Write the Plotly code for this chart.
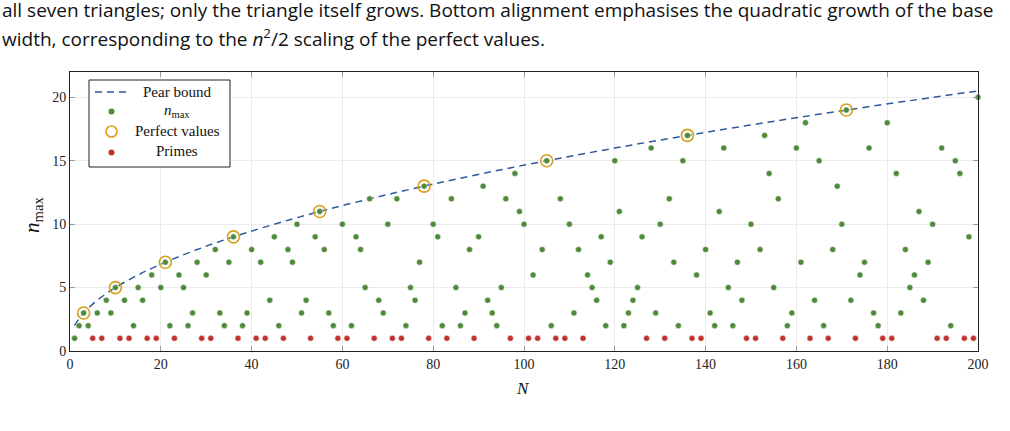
import plotly.graph_objects as go

# ---------------- data ----------------
N = list(range(1, 201))
n_max = [
    1, 2, 3, 2, 1, 3, 1, 4, 3, 5,
    1, 4, 1, 2, 5, 4, 1, 6, 1, 5,
    7, 2, 1, 6, 5, 2, 3, 7, 1, 6,
    1, 8, 3, 2, 7, 9, 1, 2, 3, 8,
    1, 7, 1, 4, 9, 2, 1, 8, 7, 10,
    3, 4, 1, 9, 11, 8, 3, 2, 1, 10,
    1, 2, 9, 8, 5, 12, 1, 4, 3, 10,
    1, 12, 1, 2, 5, 4, 7, 13, 1, 10,
    9, 2, 1, 12, 5, 2, 3, 8, 1, 9,
    13, 4, 3, 2, 5, 12, 1, 14, 11, 10,
    1, 6, 1, 8, 15, 2, 1, 12, 1, 10,
    3, 8, 1, 6, 5, 4, 9, 2, 7, 15,
    11, 2, 3, 4, 5, 9, 1, 16, 3, 10,
    1, 12, 7, 2, 15, 17, 1, 6, 1, 8,
    3, 2, 11, 16, 5, 2, 7, 4, 1, 10,
    1, 8, 17, 14, 5, 12, 1, 2, 3, 16,
    7, 18, 1, 4, 15, 2, 1, 8, 13, 10,
    19, 4, 1, 6, 7, 16, 3, 2, 1, 18,
    1, 14, 3, 8, 5, 6, 11, 4, 7, 10,
    1, 16, 1, 2, 15, 14, 1, 9, 1, 20,
]
primes = [5, 7, 11, 13, 17, 19, 23, 29, 31, 37, 41, 43, 47, 53, 59, 61, 67, 71,
          73, 79, 83, 89, 97, 101, 103, 107, 109, 113, 127, 131, 137, 139, 149,
          151, 157, 163, 167, 173, 179, 181, 191, 193, 197, 199]
perfect_N = [3, 10, 21, 36, 55, 78, 105, 136, 171]
perfect_n = [3, 5, 7, 9, 11, 13, 15, 17, 19]
bound_N = [1, 2, 3, 4, 6, 8, 10, 15, 21, 28, 36, 45, 55, 66, 78, 91, 105,
           120, 136, 153, 171, 190, 200]
bound_n = [2.0, 2.56, 3.0, 3.37, 4.0, 4.53, 5.0, 6.0, 7.0, 8.0, 9.0, 10.0, 11.0,
           12.0, 13.0, 14.0, 15.0, 16.0, 17.0, 18.0, 19.0, 20.0, 20.51]

caption1 = ("all seven triangles; only the triangle itself grows. Bottom alignment "
            "emphasises the quadratic growth of the base")
caption2 = ("width, corresponding to the <i>n</i><sup>2</sup>/2 scaling of the "
            "perfect values.")

prime_set = set(primes)
green_x = [n for n, v in zip(N, n_max) if n not in prime_set]
green_y = [v for n, v in zip(N, n_max) if n not in prime_set]
red_x = [n for n in N if n in prime_set]
red_y = [v for n, v in zip(N, n_max) if n in prime_set]

# ---------------- styling ----------------
W, H = 1010, 431
L, R, T, B = 70, 32, 72, 80
PW, PH = W - L - R, H - T - B
GREEN = "#4f8a3a"
RED = "#c0322d"
ORANGE = "#d69f1c"
BLUE = "#2d5a9e"
SERIF = "Liberation Serif"


def px(x):
    return (x - L) / PW


def py(y):
    return (H - B - y) / PH


fig = go.Figure()
fig.add_trace(go.Scatter(x=bound_N, y=bound_n, mode="lines", line_shape="spline",
                         line=dict(color=BLUE, width=1.5, dash="7px,5px"),
                         showlegend=False, hoverinfo="skip"))
fig.add_trace(go.Scatter(x=green_x, y=green_y, mode="markers",
                         marker=dict(color=GREEN, size=6,
                                     line=dict(color="white", width=0.5)),
                         cliponaxis=False, showlegend=False))
fig.add_trace(go.Scatter(x=perfect_N, y=perfect_n, mode="markers",
                         marker=dict(symbol="circle-open", color=ORANGE, size=12,
                                     line=dict(color=ORANGE, width=1.6)),
                         cliponaxis=False, showlegend=False))
fig.add_trace(go.Scatter(x=red_x, y=red_y, mode="markers",
                         marker=dict(color=RED, size=6,
                                     line=dict(color="white", width=0.5)),
                         cliponaxis=False, showlegend=False))

axis_common = dict(showline=True, linecolor="#222", linewidth=1, mirror="ticks",
                   ticks="inside", ticklen=5, tickcolor="#999", tickwidth=1,
                   showgrid=True, gridcolor="#ebebeb", gridwidth=1,
                   zeroline=False,
                   tickfont=dict(family=SERIF, size=14, color="#222"))

fig.update_xaxes(range=[0, 200], tickvals=list(range(0, 201, 20)), **axis_common)
fig.update_yaxes(range=[0, 22], tickvals=[0, 5, 10, 15, 20], **axis_common)

shapes = [
    dict(type="rect", xref="paper", yref="paper", x0=px(89), x1=px(230),
         y0=py(167), y1=py(80), line=dict(color="#222", width=1),
         fillcolor="white", layer="above"),
    dict(type="line", xref="paper", yref="paper", x0=px(95), x1=px(126),
         y0=py(92), y1=py(92), line=dict(color=BLUE, width=1.5, dash="7px,5px")),
    dict(type="circle", xref="paper", yref="paper", x0=px(108.5), x1=px(114.5),
         y0=py(114.5), y1=py(108.5), fillcolor=GREEN, line=dict(width=0)),
    dict(type="circle", xref="paper", yref="paper", x0=px(106), x1=px(117),
         y0=py(137), y1=py(126), fillcolor="rgba(0,0,0,0)",
         line=dict(color=ORANGE, width=1.6)),
    dict(type="circle", xref="paper", yref="paper", x0=px(108.5), x1=px(114.5),
         y0=py(155.5), y1=py(149.5), fillcolor=RED, line=dict(width=0)),
]

leg_font = dict(family=SERIF, size=15, color="#111")
annotations = [
    dict(text="Pear bound", x=px(177), y=py(92)),
    dict(text="<i>n</i><sub>max</sub>", x=px(177), y=py(111)),
    dict(text="Perfect values", x=px(177), y=py(131)),
    dict(text="Primes", x=px(177), y=py(151)),
]
annotations = [dict(a, xref="paper", yref="paper", showarrow=False,
                    xanchor="center", yanchor="middle", font=leg_font)
               for a in annotations]
annotations += [
    dict(text="<i>N</i>", x=px(523), y=py(388), xref="paper", yref="paper",
         showarrow=False, xanchor="center", yanchor="middle",
         font=dict(family=SERIF, size=17, color="#111")),
    dict(text="<i>n</i><sub>max</sub>", x=px(33), y=py(215), xref="paper",
         yref="paper", showarrow=False, textangle=-90, xanchor="center",
         yanchor="middle", font=dict(family=SERIF, size=21, color="#111")),
    dict(text=caption1, x=px(0), y=py(10), xref="paper", yref="paper",
         showarrow=False, xanchor="left", yanchor="middle",
         font=dict(family="Open Sans", size=19, color="#111")),
    dict(text=caption2, x=px(0), y=py(38), xref="paper", yref="paper",
         showarrow=False, xanchor="left", yanchor="middle",
         font=dict(family="Open Sans", size=19, color="#111")),
]

fig.update_layout(width=W, height=H, margin=dict(l=L, r=R, t=T, b=B),
                  plot_bgcolor="white", paper_bgcolor="white",
                  shapes=shapes, annotations=annotations, showlegend=False)

fig.write_html("out.html")
